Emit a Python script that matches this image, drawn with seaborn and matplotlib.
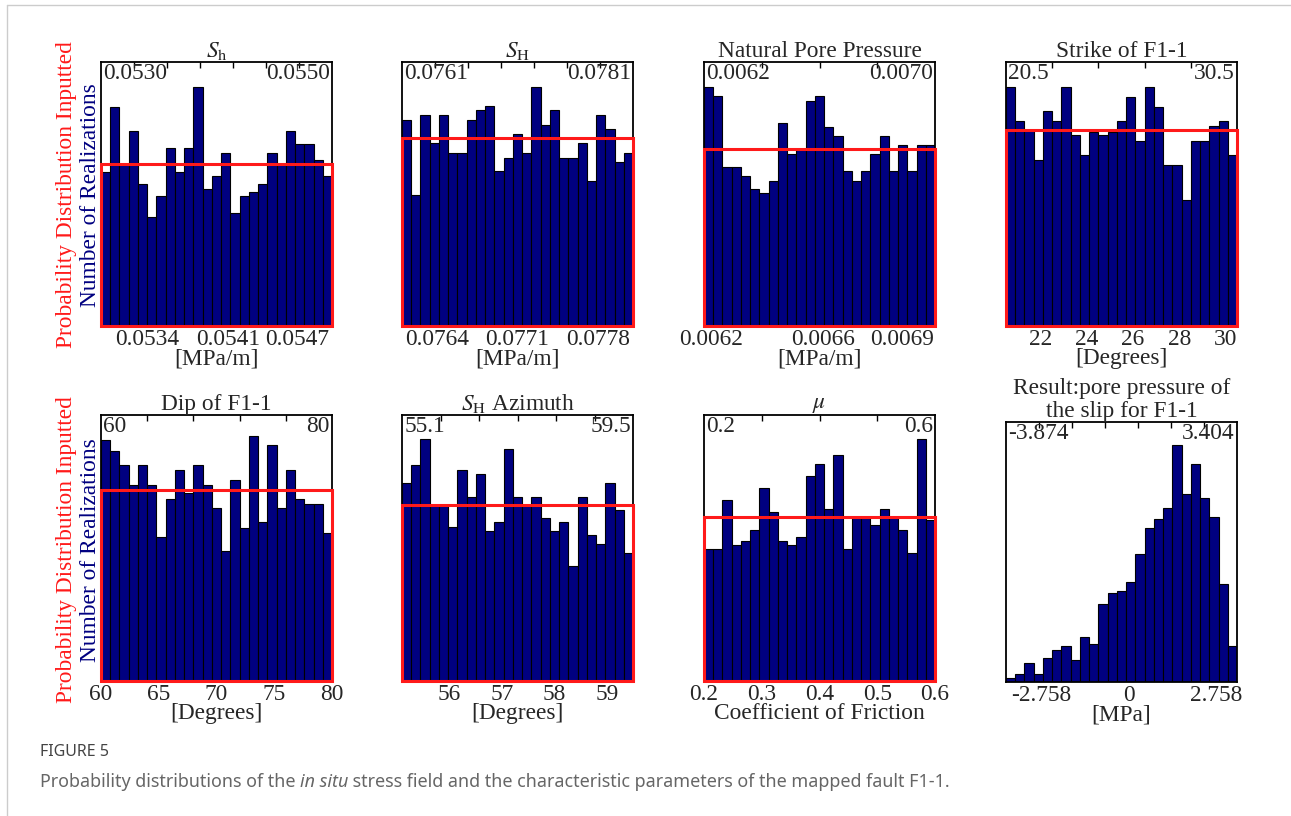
import numpy as np
import pandas as pd
import seaborn as sns
import matplotlib.pyplot as plt
from matplotlib.patches import Rectangle
from matplotlib.lines import Line2D

# bar heights (box height = 100)
sh_counts = [58.4, 83.0, 61.5, 73.8, 53.7, 41.4, 49.2, 67.6, 58.4, 67.6, 90.5, 52.0, 56.7,
             65.7, 42.9, 49.2, 50.6, 53.7, 65.7, 61.5, 73.8, 69.0, 69.0, 62.9, 56.7]
sH_counts = [78.2, 49.8, 79.9, 69.4, 79.9, 65.6, 65.6, 78.2, 81.7, 83.4, 58.6, 63.8, 72.8,
             65.6, 90.5, 76.2, 81.7, 63.8, 63.8, 69.4, 55.0, 79.9, 74.5, 62.2, 65.6]
pp_counts = [90.5, 87.1, 60.3, 60.3, 56.9, 52.0, 50.3, 55.1, 77.0, 65.3, 67.0, 85.4, 87.1,
             75.4, 72.1, 58.6, 55.1, 58.6, 65.3, 72.1, 58.6, 68.7, 58.6, 68.7, 68.7]
strike_counts = [90.5, 77.7, 74.1, 62.8, 81.5, 77.7, 90.5, 72.3, 64.8, 73.5, 72.3, 73.5, 77.7,
                 86.8, 70.1, 90.5, 83.1, 60.9, 60.9, 47.9, 70.1, 70.1, 75.7, 77.7, 64.8]
dip_counts = [90.5, 86.5, 81.2, 73.8, 81.2, 73.8, 54.0, 68.6, 79.5, 70.5, 81.2, 73.8, 64.9,
              48.7, 75.6, 57.6, 92.1, 59.6, 88.6, 64.9, 79.5, 68.6, 66.7, 66.7, 55.8]
azi_counts = [74.5, 81.2, 90.8, 66.1, 66.1, 58.0, 79.4, 69.3, 77.8, 56.5, 59.7, 87.4, 69.3,
              66.1, 69.3, 61.3, 56.5, 59.7, 43.1, 69.3, 54.8, 51.5, 74.5, 64.4, 48.1]
mu_counts = [49.6, 49.6, 68.0, 51.3, 52.5, 56.9, 72.5, 63.4, 52.5, 51.3, 54.1, 77.0, 81.5,
             64.7, 84.8, 49.6, 61.3, 61.3, 58.8, 64.7, 61.3, 56.9, 48.1, 90.8, 60.4]
result_counts = [1.5, 3.1, 7.5, 3.1, 9.4, 12.2, 13.8, 8.4, 17.3, 14.8, 29.9, 34.3, 35.0,
                 38.5, 49.3, 59.2, 62.6, 66.9, 91.0, 72.3, 83.7, 70.6, 63.4, 37.8, 13.8]

titles = ["$S_\\mathrm{h}$", "$S_\\mathrm{H}$", "Natural Pore Pressure", "Strike of F1-1",
          "Dip of F1-1", "$S_\\mathrm{H}$ Azimuth", "$\\mu$",
          "Result:pore pressure of\nthe slip for F1-1"]
xlabels = ["[MPa/m]", "[MPa/m]", "[MPa/m]", "[Degrees]",
           "[Degrees]", "[Degrees]", "Coefficient of Friction", "[MPa]"]
x_min = [0.0530, 0.0761, 0.0062, 20.5, 60, 55.1, 0.2, -3.874]
x_max = [0.0550, 0.0781, 0.0070, 30.5, 80, 59.5, 0.6, 3.404]
min_labels = ["0.0530", "0.0761", "0.0062", "20.5", "60", "55.1", "0.2", "-3.874"]
max_labels = ["0.0550", "0.0781", "0.0070", "30.5", "80", "59.5", "0.6", "3.404"]
bottom_ticks = [[0.0534, 0.0541, 0.0547], [0.0764, 0.0771, 0.0778],
                [0.006226, 0.006613, 0.006885], [22, 24, 26, 28, 30],
                [60, 65, 70, 75, 80], [56, 57, 58, 59],
                [0.2, 0.3, 0.4, 0.5, 0.6], [-2.758, 0, 2.758]]
bottom_tick_labels = [["0.0534", "0.0541", "0.0547"], ["0.0764", "0.0771", "0.0778"],
                      ["0.0062", "0.0066", "0.0069"], ["22", "24", "26", "28", "30"],
                      ["60", "65", "70", "75", "80"], ["56", "57", "58", "59"],
                      ["0.2", "0.3", "0.4", "0.5", "0.6"], ["-2.758", "0", "2.758"]]
# level of the inputted (uniform) distribution, None = not drawn
input_levels = [61.5, 71.2, 67.2, 74.1, 71.9, 66.1, 61.7, None]

all_counts = [sh_counts, sH_counts, pp_counts, strike_counts,
              dip_counts, azi_counts, mu_counts, result_counts]
top_intervals = [7, 7, 4, 5, 5, 6, 4, 7]

sns.set_style("white")
plt.rcParams['font.family'] = ['Liberation Serif', 'DejaVu Serif']
plt.rcParams['mathtext.fontset'] = 'stix'

fig = plt.figure(figsize=(12.91, 8.16), dpi=100)
W, H = 1291, 816
lefts = [101, 402, 704, 1006]
boxes_y = [(62, 326)] * 4 + [(415, 681)] * 3 + [(422, 682)]
FS = 16.8
navy = '#000080'

for i in range(8):
    c = i % 4
    top, bot = boxes_y[i]
    ax = fig.add_axes([lefts[c] / W, 1 - bot / H, 231 / W, (bot - top) / H])
    lo, hi = x_min[i], x_max[i]
    nb = len(all_counts[i])
    edges = np.linspace(lo, hi, nb + 1)
    df = pd.DataFrame({"x": (edges[:-1] + edges[1:]) / 2, "n": all_counts[i]})
    sns.histplot(data=df, x="x", weights="n", bins=nb, binrange=(lo, hi), ax=ax,
                 color=navy, edgecolor='black', linewidth=0.8, alpha=1)
    ax.set_xlim(lo, hi)
    ax.set_ylim(0, 100)
    ax.set_yticks([])
    ax.set_ylabel("")
    ax.set_xticks(bottom_ticks[i])
    ax.set_xticklabels(bottom_tick_labels[i], fontsize=FS)
    ax.tick_params(axis='x', length=0, pad=2)
    ax.set_xlabel(xlabels[i], fontsize=FS, labelpad=-1)
    ax.set_title(titles[i], fontsize=FS, pad=3, linespacing=1.1)
    for s in ax.spines.values():
        s.set_color('black')
        s.set_linewidth(1.3)
    sec = ax.secondary_xaxis('top')
    sec.set_xticks(np.linspace(lo, hi, top_intervals[i] + 1)[1:-1])
    sec.set_xticklabels([])
    sec.tick_params(direction='in', length=4, width=1, color='black')
    sec.spines['top'].set_visible(False)
    ax.text(0.01, 0.995, min_labels[i], transform=ax.transAxes, ha='left', va='top', fontsize=FS)
    ax.text(0.99, 0.995, max_labels[i], transform=ax.transAxes, ha='right', va='top', fontsize=FS)
    if input_levels[i] is not None:
        ax.add_patch(Rectangle((lo, 0), hi - lo, input_levels[i], fill=False,
                               edgecolor='#ff1a1a', linewidth=2.2, clip_on=False, zorder=5))

for yc in [195, 550]:
    fig.text(67 / W, 1 - yc / H, "Probability Distribution Inputted", color='#ff1a1a',
             rotation=90, ha='center', va='center', fontsize=FS)
    fig.text(90 / W, 1 - yc / H, "Number of Realizations", color=navy,
             rotation=90, ha='center', va='center', fontsize=FS)

# page frame
fig.add_artist(Line2D([7 / W, 7 / W], [0, 1 - 5 / H], color='#cccccc', lw=1))
fig.add_artist(Line2D([7 / W, 1], [1 - 5 / H, 1 - 5 / H], color='#cccccc', lw=1))

cap = ['Noto Sans', 'DejaVu Sans']
fig.text(40 / W, 1 - 752 / H, "FIGURE 5", family=cap, fontsize=11.5, color='#444444',
         weight='semibold', ha='left', va='center')
renderer = fig.canvas.get_renderer()
x0 = 40
pieces = [("Probability distributions of the ", 'normal'), ("in situ", 'italic'),
          (" stress field and the characteristic parameters of the mapped fault F1-1.", 'normal')]
for txt, st in pieces:
    t = fig.text(x0 / W, 1 - 782 / H, txt, family=cap, style=st, fontsize=12.9,
                 color='#666666', ha='left', va='center')
    x0 += t.get_window_extent(renderer).width

fig.savefig("out.png", dpi=100)
